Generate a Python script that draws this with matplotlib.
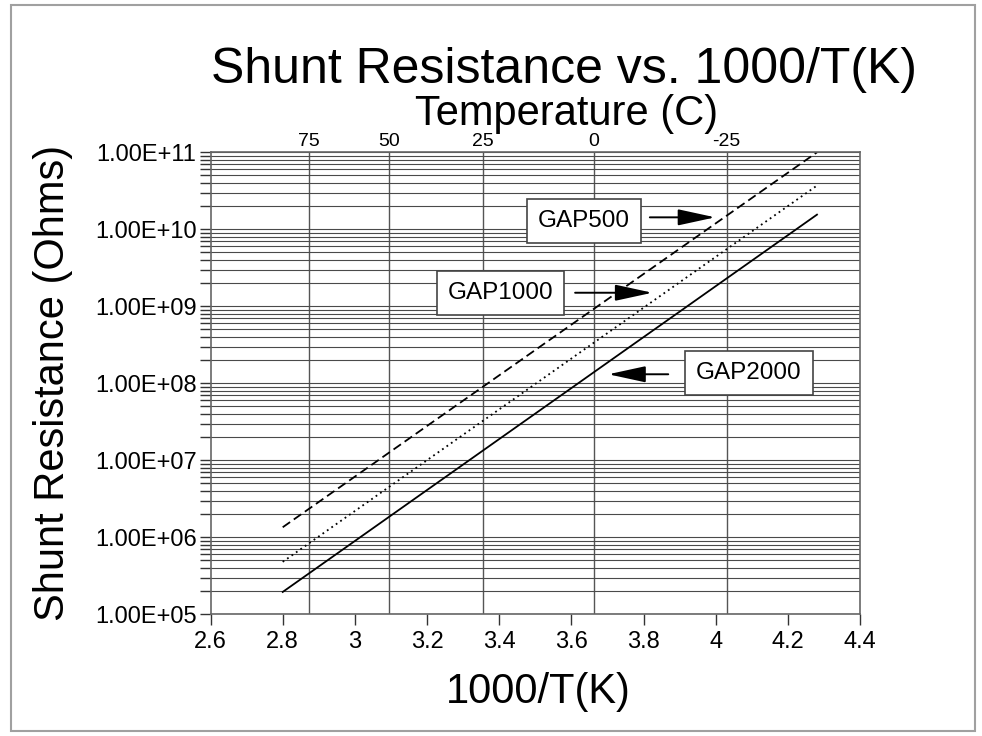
import numpy as np
import matplotlib
matplotlib.use("Agg")
import matplotlib.pyplot as plt
from matplotlib.ticker import FixedLocator, FuncFormatter, LogLocator, NullFormatter
from matplotlib.patches import Rectangle

plt.rcParams['font.family'] = ['Liberation Sans', 'DejaVu Sans']

# endpoints of each curve (straight lines on semilog axes)
inv_t = [2.8, 4.28]
gap500 = [1.35e6, 1.0e11]
gap1000 = [4.8e5, 3.7e10]
gap2000 = [1.95e5, 1.55e10]

x_ticks = [2.6, 2.8, 3.0, 3.2, 3.4, 3.6, 3.8, 4.0, 4.2, 4.4]
y_decades = [1e5, 1e6, 1e7, 1e8, 1e9, 1e10, 1e11]
temps_c = [75, 50, 25, 0, -25]

fig = plt.figure(figsize=(9.82, 7.36), dpi=100)
ax = fig.add_axes([210.5/982, 1-614.3/736, (860.3-210.5)/982, (614.3-152.3)/736])

ax.set_yscale('log')
ax.set_xlim(2.6, 4.4)
ax.set_ylim(1e5, 1e11)

# horizontal grid, every minor decade line
ax.yaxis.set_major_locator(FixedLocator(y_decades))
ax.yaxis.set_minor_locator(LogLocator(base=10, subs=np.arange(2, 10)))
ax.yaxis.set_minor_formatter(NullFormatter())
ax.yaxis.set_major_formatter(FuncFormatter(lambda v, p: '1.00E+%02d' % round(np.log10(v))))
ax.grid(True, which='both', axis='y', color='#4a4a4a', lw=0.8)
ax.tick_params(axis='y', which='both', direction='out', length=8, width=1,
               color='#333333', labelsize=17, pad=2)

ax.xaxis.set_major_locator(FixedLocator(x_ticks))
ax.xaxis.set_major_formatter(FuncFormatter(lambda v, p: '%g' % round(v, 1)))
ax.tick_params(axis='x', direction='out', length=8, width=1, color='#333333',
               labelsize=17, pad=4)

for s in ax.spines.values():
    s.set_color('#666666')
    s.set_linewidth(1.2)

# temperature axis on top
ax2 = ax.twiny()
ax2.set_xlim(ax.get_xlim())
ax2.set_xticks([1000.0/(t + 273.15) for t in temps_c])
ax2.set_xticklabels([str(t) for t in temps_c])
ax2.tick_params(axis='x', length=0, labelsize=14, pad=2)
ax2.grid(True, axis='x', color='#555555', lw=1.0)
for s in ax2.spines.values():
    s.set_visible(False)
ax2.set_zorder(0)
ax.set_zorder(1)
ax.patch.set_visible(False)

ax.plot(inv_t, gap500, color='black', lw=1.3, ls=(0, (5, 2.5)))
ax.plot(inv_t, gap1000, color='black', lw=1.3, ls=(0, (1, 2)))
ax.plot(inv_t, gap2000, color='black', lw=1.3, ls='-')

box = dict(boxstyle='square,pad=0.45', fc='white', ec='#444444', lw=1.2)
ax.text(3.634, 1.29e10, 'GAP500', fontsize=17.5, ha='center', va='center', bbox=box, zorder=5)
ax.text(3.404, 1.49e9, 'GAP1000', fontsize=17.5, ha='center', va='center', bbox=box, zorder=5)
ax.text(4.091, 1.35e8, 'GAP2000', fontsize=17.5, ha='center', va='center', bbox=box, zorder=5)

arrow = dict(arrowstyle='-|>,head_length=2.3,head_width=0.5', color='black', lw=1.4,
             mutation_scale=10, shrinkA=0, shrinkB=0)
ax.annotate('', xy=(3.998, 1.43e10), xytext=(3.817, 1.43e10), arrowprops=arrow, zorder=5)
ax.annotate('', xy=(3.824, 1.5e9), xytext=(3.610, 1.5e9), arrowprops=arrow, zorder=5)
ax.annotate('', xy=(3.702, 1.31e8), xytext=(3.868, 1.31e8), arrowprops=arrow, zorder=5)

fig.text(564/982, 1-83/736, 'Shunt Resistance vs. 1000/T(K)', fontsize=36,
         ha='center', va='baseline')
fig.text(566.5/982, 1-125/736, 'Temperature (C)', fontsize=30, ha='center', va='baseline')
fig.text(538/982, 1-703/736, '1000/T(K)', fontsize=30, ha='center', va='baseline')
fig.text(53/982, 1-383/736, 'Shunt Resistance (Ohms)', fontsize=30, rotation=90,
         ha='center', va='center')

fig.patches.append(Rectangle((11/982, 1-731/736), (975-11)/982, (731-5)/736,
                             transform=fig.transFigure, fill=False,
                             ec='#a0a0a0', lw=1.5))

fig.savefig('out.png', dpi=100)
